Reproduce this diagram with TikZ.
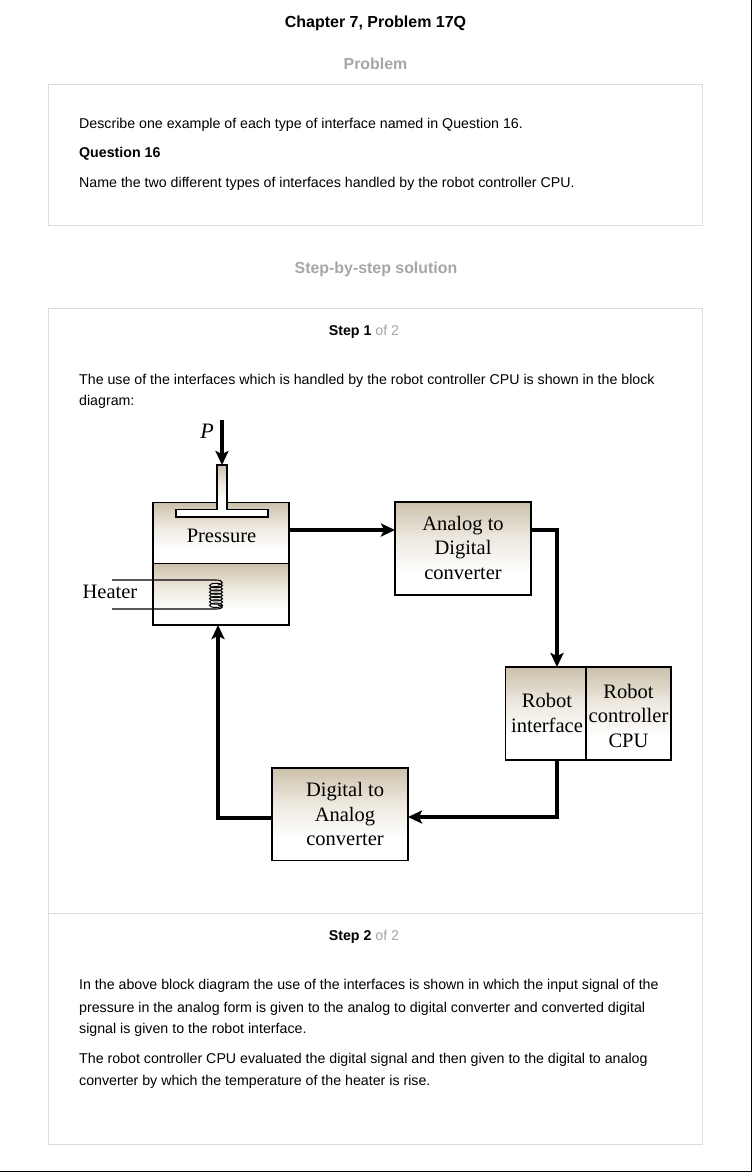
\documentclass[tikz,border=0pt]{standalone}
\usepackage{fontspec}
\setmainfont{Liberation Sans}
\newfontfamily\serifdiag{Liberation Serif}
\usetikzlibrary{arrows.meta}
\definecolor{panelline}{HTML}{DDDDDD}
\definecolor{headgray}{HTML}{A6A6A6}
\definecolor{tantop}{HTML}{CBC0AB}
\definecolor{tanmid}{HTML}{EDE8DE}
\pgfdeclareverticalshading{tanfade}{100bp}{color(0bp)=(white); color(37bp)=(white); color(56bp)=(tanmid); color(75bp)=(tantop); color(100bp)=(tantop)}
\tikzset{
  body/.style={anchor=base west,inner sep=0pt,font=\fontsize{14.2}{17}\selectfont,text=black},
  title/.style={anchor=base,inner sep=0pt,font=\fontsize{16}{19}\selectfont\bfseries},
  headtext/.style={anchor=base,inner sep=0pt,font=\fontsize{15.9}{19}\selectfont\bfseries,text=headgray},
  steptext/.style={anchor=base,inner sep=0pt,font=\fontsize{14.2}{17}\selectfont,text=headgray},
  panel/.style={draw=panelline,line width=1pt,fill=white,outer sep=0pt},
  blockbox/.style={draw=black,line width=1.6pt,shading=tanfade,inner sep=0pt,outer sep=0pt,anchor=north west},
  blocktext/.style={inner sep=0pt,align=center,font=\serifdiag\fontsize{20.5}{24.5}\selectfont},
  difflabel/.style={inner sep=0pt,anchor=base,font=\serifdiag\fontsize{20.5}{24.5}\selectfont},
  conn/.style={draw=black,line width=3.4pt,-{Stealth[length=14pt,width=13pt,inset=3pt]}},
  wire/.style={draw=black,line width=1.1pt},
}
\begin{document}
\begin{tikzpicture}[x=1pt,y=-1pt]
\useasboundingbox (0,0) rectangle (752,1172);
\fill[white] (0,0) rectangle (752,1172);
\draw[black,line width=1.4pt] (751.2,0) -- (751.2,1171.2) -- (0,1171.2);

\node[title] (chaptitle) at (375.5,27.4) {Chapter 7, Problem 17Q};
\node[headtext] (probhead) at (375.5,69.6) {Problem};
\node[panel,minimum width=654pt,minimum height=141pt,inner sep=0pt,anchor=north west] (probpanel) at (48.5,84.5) {};
\node[body] (t1) at (79,128) {Describe one example of each type of interface named in Question 16.};
\node[body,font=\fontsize{14.2}{17}\selectfont\bfseries] (t2) at (79,157.5) {Question 16};
\node[body] (t3) at (79,187) {Name the two different types of interfaces handled by the robot controller CPU.};
\node[headtext] (stephead) at (376,273) {Step-by-step solution};
\node[panel,minimum width=654pt,minimum height=836pt,inner sep=0pt,anchor=north west] (solpanel) at (48.5,308.5) {};
\draw[panelline,line width=1pt] (solpanel.west |- 0,913.5) -- (solpanel.east |- 0,913.5);
\node[steptext] (s1) at (364,335) {\textcolor{black}{\bfseries Step 1} of 2};
\node[body] (t4) at (79,384) {The use of the interfaces which is handled by the robot controller CPU is shown in the block};
\node[body] (t5) at (79,405) {diagram:};
\node[steptext] (s2) at (364,940) {\textcolor{black}{\bfseries Step 2} of 2};
\node[body] (t6) at (79,989) {In the above block diagram the use of the interfaces is shown in which the input signal of the};
\node[body] (t7) at (79,1012) {pressure in the analog form is given to the analog to digital converter and converted digital};
\node[body] (t8) at (79,1033) {signal is given to the robot interface.};
\node[body] (t9) at (79,1063) {The robot controller CPU evaluated the digital signal and then given to the digital to analog};
\node[body] (t10) at (79,1085) {converter by which the temperature of the heater is rise.};

% pressure vessel
\node[blockbox,minimum width=136pt,minimum height=61pt] (press) at (153,502.5) {};
\node[blockbox,minimum width=136pt,minimum height=61.5pt] (heat) at (153,563.5) {};
\draw[black,line width=1.5pt,fill=white] (176,509.5) rectangle (268,517);
\fill[white] (217.8,505) rectangle (226.2,516);
\shade[shading=tanfade] (217.8,465) rectangle (226.2,513);
\draw[black,line width=1.5pt] (176,509.5) -- (217,509.5) -- (217,465) -- (227,465) -- (227,509.5) -- (268,509.5);
\node[difflabel] (presslabel) at (221.5,542) {Pressure};
\node[difflabel] (heaterlabel) at (110,598.5) {Heater};
\node[difflabel,font=\serifdiag\itshape\fontsize{22}{24}\selectfont] (plabel) at (207,438) {P};
\coordinate (ptop) at (222,420);
\coordinate (pend) at (222,465);
\draw[conn] (ptop) -- (pend);
% heater coil
\coordinate (wiretop) at (112,580);
\coordinate (wirebot) at (112,609);
\foreach \yy in {585.5,588.8,592.1,595.4,598.7,602,605.3}
  \draw[black,line width=1pt] (216,\yy) ellipse (6.5pt and 2.2pt);
\draw[wire] (wiretop) -- (216,580) .. controls (224,580) and (224,585) .. (218,585);
\draw[wire] (wirebot) -- (216,609) .. controls (224,609) and (224,605) .. (218,605);

\node[blockbox,minimum width=136pt,minimum height=93pt] (adc) at (395,502) {};
\node[blocktext] (adclabel) at (463,547.5) {Analog to\\Digital\\converter};
\node[blockbox,minimum width=80.5pt,minimum height=93pt] (rif) at (505.5,667) {};
\node[blocktext] (riflabel) at (547,713) {Robot\\interface};
\node[blockbox,minimum width=85pt,minimum height=93pt] (cpu) at (586,667) {};
\node[blocktext] (cpulabel) at (628.5,715.5) {Robot\\controller\\CPU};
\node[blockbox,minimum width=136pt,minimum height=92.5pt] (dac) at (272,768) {};
\node[blocktext] (daclabel) at (345,814) {Digital to\\Analog\\converter};

\coordinate (leftlane) at (218,818);
\coordinate (rightlane) at (557,530);
\coordinate (botlane) at (557,817);
\draw[conn] (press.east |- rightlane) -- (adc.west |- rightlane);
\draw[conn] (adc.east |- rightlane) -- (rightlane) -- (rightlane |- rif.north);
\draw[conn] (rightlane |- rif.south) -- (botlane) -- (dac.east |- botlane);
\draw[conn] (dac.west |- leftlane) -- (leftlane) -- (leftlane |- heat.south);
\end{tikzpicture}
\end{document}
